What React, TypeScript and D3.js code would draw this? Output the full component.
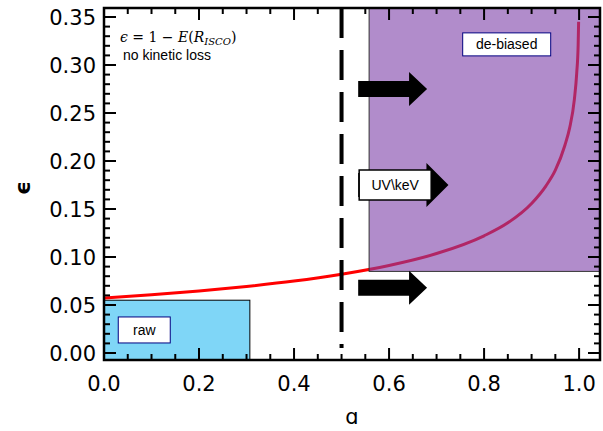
import React from "react";
import * as d3 from "d3";

const spinA = [0, 0.1, 0.2, 0.3, 0.4, 0.5, 0.6, 0.7, 0.8, 0.85, 0.9, 0.93, 0.95, 0.97, 0.98, 0.99, 0.995, 0.998, 0.999];
const effEps = [0.0572, 0.0606, 0.0646, 0.0693, 0.0749, 0.0821, 0.0912, 0.1036, 0.1221, 0.1356, 0.1558, 0.1739, 0.1904, 0.2162, 0.2342, 0.2640, 0.2916, 0.3206, 0.345];
const xTicks = [0, 0.2, 0.4, 0.6, 0.8, 1.0];
const yTicks = [0, 0.05, 0.1, 0.15, 0.2, 0.25, 0.3, 0.35];
const rawBox = { a0: 0, a1: 0.307, e0: -0.01, e1: 0.055 };
const debBox = { a0: 0.558, a1: 1.06, e0: 0.085, e1: 0.37 };
const arrows = [
  { a: 0.535, e: 0.275, len: 0.145, big: false },
  { a: 0.535, e: 0.175, len: 0.19, big: true },
  { a: 0.535, e: 0.068, len: 0.145, big: false },
];

export default function App() {
  const L = 104, R = 600, T = 8, B = 360;
  const x = d3.scaleLinear().domain([0, 1.044]).range([L, R]);
  const y = d3.scaleLinear().domain([0, 0.35]).range([353, 17]);
  const line = d3.line<number>().x((_, i) => x(spinA[i])).y((d) => y(d)).curve(d3.curveMonotoneX);
  const font = "'DejaVu Sans', sans-serif";
  const minorX = d3.range(0, 1.041, 0.05);
  const minorY = d3.range(0, 0.356, 0.01);
  const clamp = (v: number) => Math.max(T, Math.min(B, v));
  return (
    <svg width={603} height={431} style={{ position: "absolute", left: 0, top: 0, background: "#fff" }}>
      <defs>
        <clipPath id="c"><rect x={L} y={T} width={R - L} height={B - T} /></clipPath>
      </defs>
      <g clipPath="url(#c)">
        <rect x={x(rawBox.a0)} y={y(rawBox.e1)} width={x(rawBox.a1) - x(rawBox.a0)} height={clamp(y(rawBox.e0)) - y(rawBox.e1)} fill="#7fd6f7" stroke="#000" strokeWidth={1} />
        <path d={line(effEps) || ""} fill="none" stroke="#ff0000" strokeWidth={3} />
        <rect x={x(debBox.a0)} y={T} width={R - x(debBox.a0)} height={y(debBox.e0) - T} fill="#7d3fa8" fillOpacity={0.6} stroke="#333" strokeWidth={1} />
        <line x1={x(0.5)} x2={x(0.5)} y1={T} y2={B - 12} stroke="#000" strokeWidth={4} strokeDasharray="30,12" />
        {arrows.map((ar, i) => {
          const x0 = x(ar.a), x1 = x(ar.a + ar.len), cy = y(ar.e);
          const h = ar.big ? 12 : 8, hh = ar.big ? 22 : 17, hl = ar.big ? 22 : 18;
          const pts = [[x0, cy - h], [x1 - hl, cy - h], [x1 - hl, cy - hh], [x1, cy], [x1 - hl, cy + hh], [x1 - hl, cy + h], [x0, cy + h]];
          return <polygon key={i} points={pts.map((p) => p.join(",")).join(" ")} fill="#000" />;
        })}
      </g>
      <rect x={x(0.535) + 1} y={y(0.175) - 15} width={72} height={30} fill="#fff" stroke="#000" strokeWidth={1.5} />
      <text x={x(0.535) + 37} y={y(0.175) + 5} textAnchor="middle" fontFamily="Arial, 'Liberation Sans', sans-serif" fontSize={14}>UV\keV</text>
      <rect x={x(0.755)} y={y(0.322) - 11} width={88} height={23} fill="#fff" stroke="#000080" strokeWidth={1} />
      <text x={x(0.755) + 44} y={y(0.322) + 5} textAnchor="middle" fontFamily="Arial, 'Liberation Sans', sans-serif" fontSize={14}>de-biased</text>
      <rect x={x(0.03)} y={y(0.024) - 13} width={52} height={26} fill="#fff" stroke="#000080" strokeWidth={1} />
      <text x={x(0.03) + 26} y={y(0.024) + 5} textAnchor="middle" fontFamily="Arial, 'Liberation Sans', sans-serif" fontSize={14}>raw</text>
      <text x={120} y={42} fontFamily="'DejaVu Serif', serif" fontSize={14} fontStyle="italic">ϵ <tspan fontStyle="normal">= 1 −</tspan> E<tspan fontStyle="normal">(</tspan>R<tspan fontSize={10} dy={3}>ISCO</tspan><tspan fontStyle="normal" dy={-3}>)</tspan></text>
      <text x={123} y={60} fontFamily="Arial, 'Liberation Sans', sans-serif" fontSize={14}>no kinetic loss</text>
      <rect x={L} y={T} width={R - L} height={B - T} fill="none" stroke="#000" strokeWidth={2.5} />
      {minorX.map((v, i) => {
        const major = Math.abs(v * 5 - Math.round(v * 5)) < 1e-6;
        const len = major ? 12 : 6;
        return <g key={"x" + i}>
          <line x1={x(v)} x2={x(v)} y1={B} y2={B - len} stroke="#000" strokeWidth={2} />
          <line x1={x(v)} x2={x(v)} y1={T} y2={T + len} stroke="#000" strokeWidth={2} />
        </g>;
      })}
      {minorY.map((v, i) => {
        const major = Math.abs(v * 20 - Math.round(v * 20)) < 1e-6;
        const len = major ? 12 : 6;
        return <g key={"y" + i}>
          <line x1={L} x2={L + len} y1={y(v)} y2={y(v)} stroke="#000" strokeWidth={2} />
          <line x1={R} x2={R - len} y1={y(v)} y2={y(v)} stroke="#000" strokeWidth={2} />
        </g>;
      })}
      {xTicks.map((v) => <text key={v} x={x(v)} y={391} textAnchor="middle" fontFamily={font} fontSize={21}>{v.toFixed(1)}</text>)}
      {yTicks.map((v) => <text key={v} x={96} y={y(v) + 8} textAnchor="end" fontFamily={font} fontSize={21}>{v.toFixed(2)}</text>)}
      <text x={352} y={424} textAnchor="middle" fontFamily={font} fontSize={21}>ɑ</text>
      <text x={30} y={188} textAnchor="middle" fontFamily={font} fontSize={22} fontWeight="bold" transform="rotate(-90 30 188)">ϵ</text>
    </svg>
  );
}
